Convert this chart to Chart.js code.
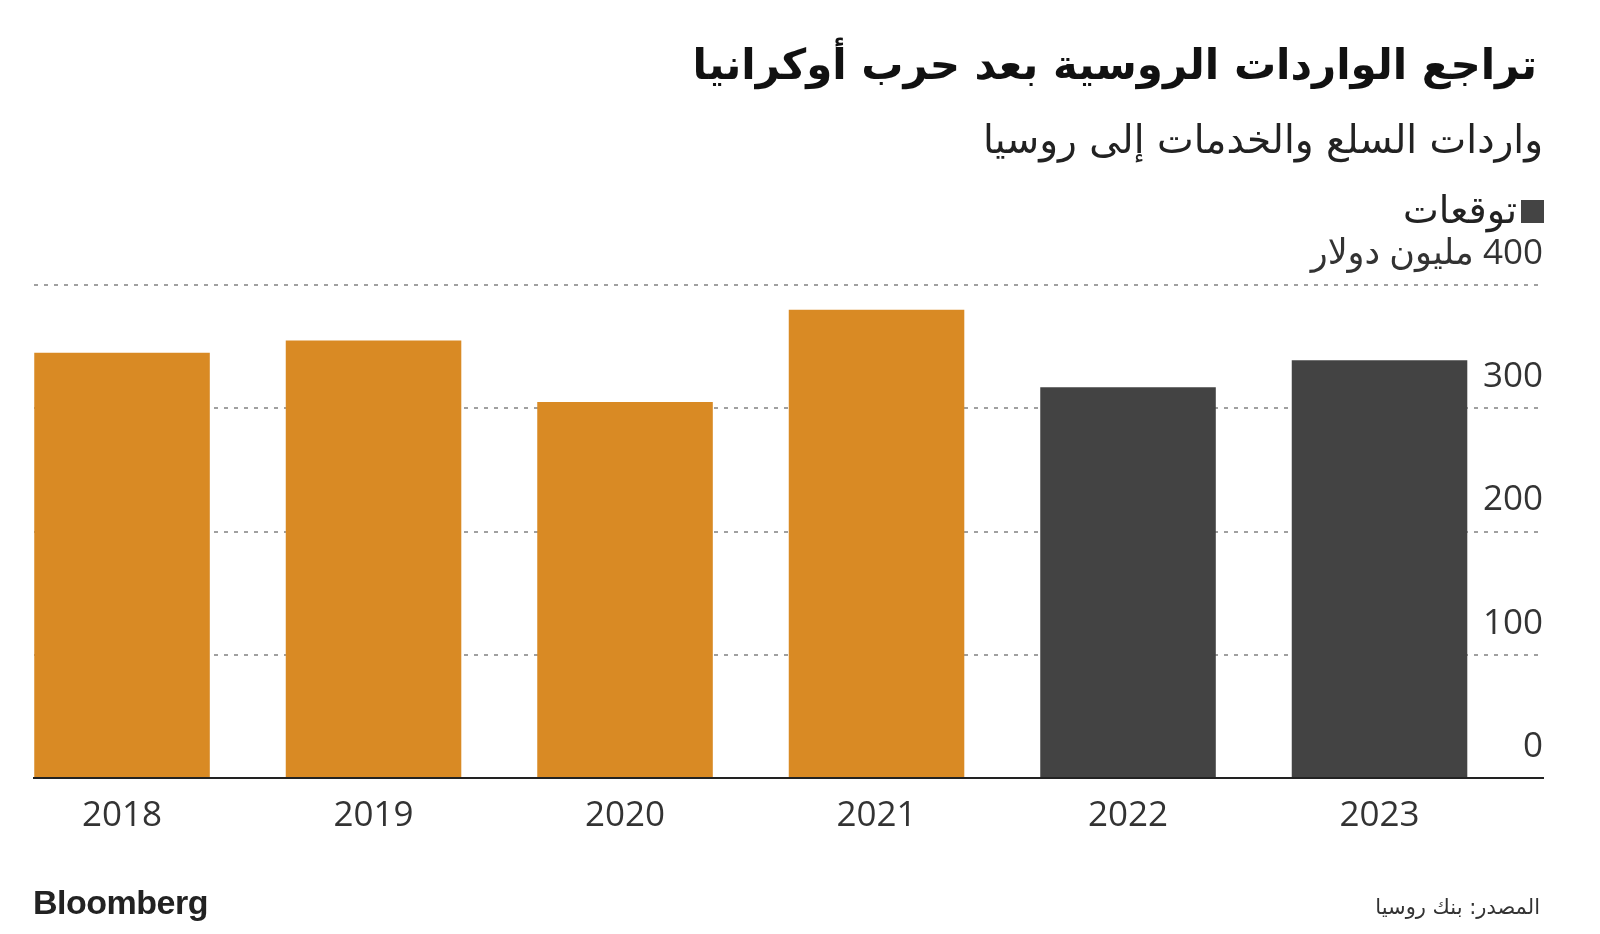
<!DOCTYPE html>
<html lang="ar">
<head>
<meta charset="utf-8">
<script src="https://cdn.jsdelivr.net/npm/chart.js@4.4.0/dist/chart.umd.min.js"></script>
<style>
  body { margin: 0; background: #fff; }
  #wrap { position: relative; width: 1600px; height: 934px; overflow: hidden; background: #fff; }
  #chart { position: absolute; left: 0; top: 0; }
  .txt { position: absolute; direction: rtl; font-family: "DejaVu Sans", sans-serif; white-space: nowrap; line-height: 1; }
  #title { right: 63px; top: 44px; font-size: 42px; font-weight: bold; color: #111; }
  #subtitle { right: 57px; top: 120px; font-size: 39px; color: #222; }
  #legend { right: 56px; top: 191px; font-size: 38px; color: #222; }
  #legend .box { display: inline-block; width: 23px; height: 23px; background: #444; margin-left: 4px; vertical-align: 0px; }
  #source { right: 60px; top: 897px; font-size: 21px; color: #333; }
  #logo { position: absolute; left: 33px; top: 885px; font-family: "Liberation Sans", Arial, sans-serif; font-weight: bold; font-size: 34px; letter-spacing: -0.5px; color: #222; line-height: 1; }
</style>
</head>
<body>
<div id="wrap">
  <canvas id="chart" width="1600" height="934" dir="rtl"></canvas>
  <div class="txt" id="title">تراجع الواردات الروسية بعد حرب أوكرانيا</div>
  <div class="txt" id="subtitle">واردات السلع والخدمات إلى روسيا</div>
  <div class="txt" id="legend"><span class="box"></span>توقعات</div>
  <div class="txt" id="source">المصدر: بنك روسيا</div>
  <div id="logo">Bloomberg</div>
</div>
<script>
// data (million dollars)
const years = [2018, 2019, 2020, 2021, 2022, 2023];
const imports = [345, 355, 305, 380, 317, 339];
const isForecast = [false, false, false, false, true, true];
const unitLabel = 'مليون دولار';

const ORANGE = '#D98A24';
const DARK = '#434343';

const points = years.map((y, i) => ({ x: y, y: imports[i] }));
const barColors = isForecast.map(f => f ? DARK : ORANGE);

const tickFont = { family: '"Open Sans", "DejaVu Sans", sans-serif', size: 35 };

const ctx = document.getElementById('chart').getContext('2d');
const myChart = new Chart(ctx, {
  type: 'bar',
  data: {
    datasets: [{
      data: points,
      backgroundColor: barColors,
      borderWidth: 0,
      barPercentage: 0.698,
      categoryPercentage: 1
    }]
  },
  options: {
    responsive: false,
    animation: false,
    layout: { padding: { left: 34, right: 57, top: 285, bottom: 79 } },
    plugins: {
      legend: { display: false },
      tooltip: { enabled: false }
    },
    scales: {
      x: {
        type: 'linear',
        offset: false,
        min: years[0] - 0.35,
        max: years[years.length - 1] + 0.65,
        // one tick per year, under each bar
        afterBuildTicks: (scale) => {
          scale.ticks = years.map(v => ({ value: v }));
        },
        ticks: {
          padding: 17.5,
          color: '#333',
          font: tickFont,
          callback: (v) => String(v)
        },
        grid: { display: false, drawTicks: false },
        border: { display: true, color: '#222', width: 2 }
      },
      y: {
        position: 'right',
        min: 0,
        max: 400,
        ticks: {
          stepSize: 100,
          mirror: true,
          padding: 0,
          labelOffset: -31,
          color: '#333',
          font: tickFont,
          callback: (v) => v === 400 ? v + ' ' + unitLabel : String(v)
        },
        grid: {
          drawTicks: false,
          lineWidth: 2,
          color: (c) => c.tick && c.tick.value === 0 ? 'rgba(0,0,0,0)' : '#a0a0a0'
        },
        border: { display: false, dash: [4, 6] }
      }
    }
  }
});
</script>
</body>
</html>
